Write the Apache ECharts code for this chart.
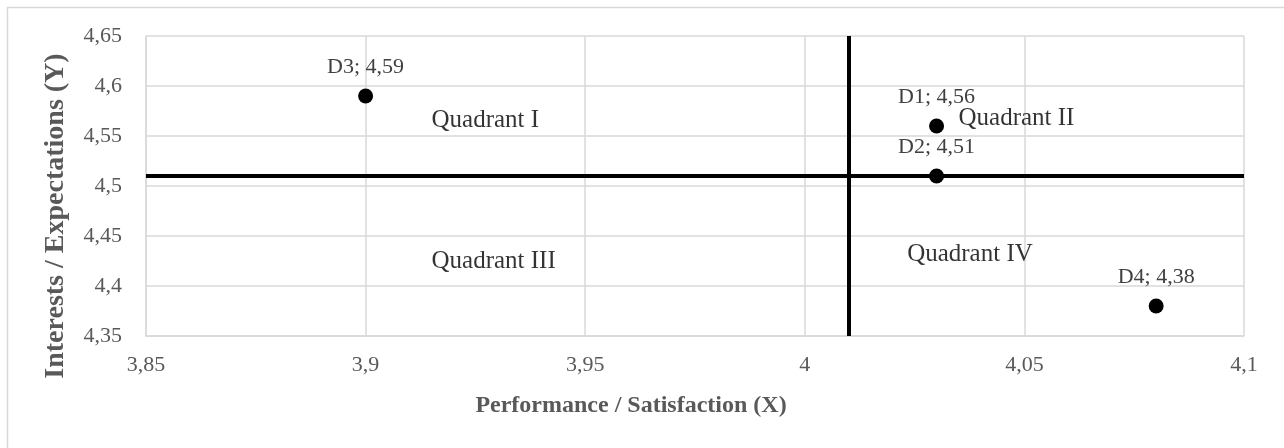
<!DOCTYPE html>
<html>
<head>
<meta charset="utf-8">
<script src="https://cdn.jsdelivr.net/npm/echarts@6/dist/echarts.min.js"></script>
<style>
    html, body { margin: 0; padding: 0; background: #fff; }
    #chart { width: 1284px; height: 448px; }
</style>
</head>
<body>
<div id="chart"></div>
<script>
// points: name, performance (x), interest (y)
const pointNames = ['D1', 'D2', 'D3', 'D4'];
const perfValues = [4.03, 4.03, 3.9, 4.08];
const interestValues = [4.56, 4.51, 4.59, 4.38];

// quadrant dividers
const xSplit = [4.01];
const ySplit = [4.51];

// quadrant captions, anchored at their left edge in data units
const quadNames = ['Quadrant I', 'Quadrant II', 'Quadrant III', 'Quadrant IV'];
const quadX = [3.915, 4.035, 3.915, 4.0233];
const quadY = [4.566, 4.568, 4.425, 4.432];

const xTicks = { min: 3.85, max: 4.1, step: 0.05 };
const yTicks = { min: 4.35, max: 4.65, step: 0.05 };

const fmt = v => String(+(+v).toFixed(2)).replace('.', ',');
const font = '"Liberation Serif", "DejaVu Serif", serif';

const chart = echarts.init(document.getElementById('chart'));

const option = {
    animation: false,
    textStyle: { fontFamily: font },
    graphic: [{
        type: 'rect',
        shape: { x: 7.5, y: 7.5, width: 1400, height: 600 },
        style: { fill: 'none', stroke: '#d9d9d9', lineWidth: 1.5 },
        silent: true
    }],
    grid: { left: 146, right: 40, top: 36, bottom: 112 },
    xAxis: {
        type: 'value',
        min: xTicks.min,
        max: xTicks.max,
        interval: xTicks.step,
        name: 'Performance / Satisfaction (X)',
        nameLocation: 'middle',
        nameGap: 58,
        nameTextStyle: {
            fontFamily: font, fontSize: 24, fontWeight: 'bold', color: '#595959',
            padding: [0, 128, 0, 0]
        },
        axisLine: { show: true, lineStyle: { color: '#d9d9d9', width: 1.5 } },
        axisTick: { show: false },
        axisLabel: { fontFamily: font, fontSize: 22, color: '#595959', margin: 18, formatter: fmt },
        splitLine: { show: true, lineStyle: { color: '#d9d9d9', width: 1.5 } }
    },
    yAxis: {
        type: 'value',
        min: yTicks.min,
        max: yTicks.max,
        interval: yTicks.step,
        name: 'Interests / Expectations (Y)',
        nameLocation: 'middle',
        nameGap: 76,
        nameTextStyle: {
            fontFamily: font, fontSize: 28, fontWeight: 'bold', color: '#595959',
            padding: [0, 60, 0, 0]
        },
        axisLine: { show: true, lineStyle: { color: '#d9d9d9', width: 1.5 } },
        axisTick: { show: false },
        axisLabel: { fontFamily: font, fontSize: 22, color: '#595959', margin: 24, formatter: fmt },
        splitLine: { show: true, lineStyle: { color: '#d9d9d9', width: 1.5 } }
    },
    series: [
        {
            name: 'points',
            type: 'scatter',
            symbol: 'circle',
            symbolSize: 15,
            itemStyle: { color: '#000', opacity: 1 },
            z: 5,
            data: pointNames.map((n, i) => ({ name: n, value: [perfValues[i], interestValues[i]] })),
            label: {
                show: true,
                position: 'top',
                distance: 10,
                fontFamily: font,
                fontSize: 22,
                color: '#404040',
                formatter: p => p.name + '; ' + fmt(p.value[1])
            },
            markLine: {
                silent: true,
                symbol: 'none',
                label: { show: false },
                lineStyle: { color: '#000', width: 4, type: 'solid' },
                data: [
                    ...xSplit.map(v => ({ xAxis: v })),
                    ...ySplit.map(v => ({ yAxis: v }))
                ]
            }
        },
        {
            name: 'quadrants',
            type: 'scatter',
            symbolSize: 0,
            silent: true,
            z: 4,
            data: quadNames.map((n, i) => ({ name: n, value: [quadX[i], quadY[i]] })),
            label: {
                show: true,
                position: 'right',
                distance: 0,
                fontFamily: font,
                fontSize: 25,
                color: '#000',
                formatter: p => p.name
            }
        }
    ]
};

chart.setOption(option);
</script>
</body>
</html>
